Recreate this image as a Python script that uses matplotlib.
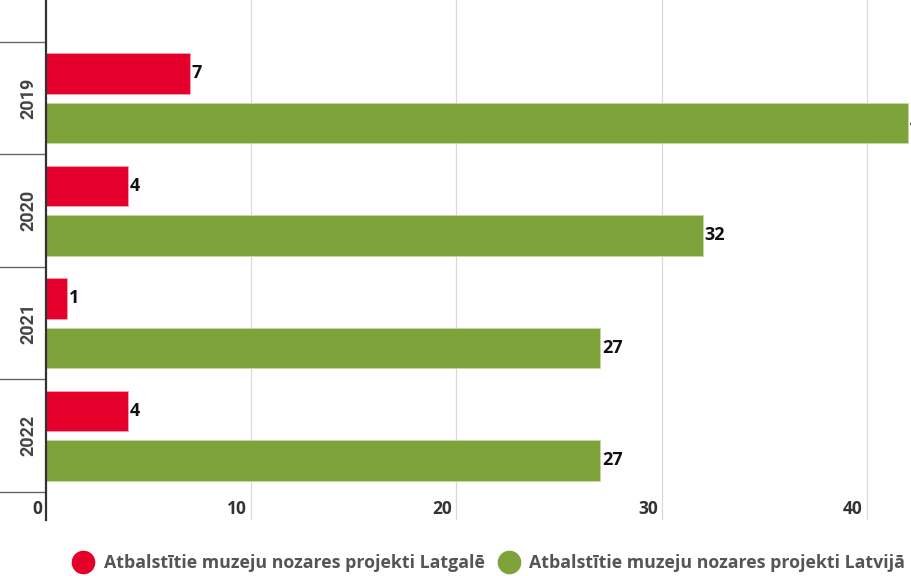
import numpy as np
import matplotlib.pyplot as plt
from matplotlib.lines import Line2D
import matplotlib.transforms as mtransforms

years = ["2019", "2020", "2021", "2022"]
latgale = [7, 4, 1, 4]
latvija = [42, 32, 27, 27]
series_names = ["Atbalstītie muzeju nozares projekti Latgalē",
                "Atbalstītie muzeju nozares projekti Latvijā"]
xticks = [0, 10, 20, 30, 40]

red = "#e4002b"
green = "#7ea33b"

plt.rcParams["font.family"] = ["Open Sans", "DejaVu Sans"]

fig = plt.figure(figsize=(9.12, 5.76), dpi=100)
# axes spans from x=46 to right edge, y=0 (top) down to y=520 px
ax = fig.add_axes([46 / 912, 1 - 520 / 576, 1 - 46 / 912, 520 / 576])

pos = np.arange(len(years))
h = 0.36
ax.barh(pos - 0.22, latgale, height=h, color=red, edgecolor="#f4a0b0", linewidth=0.6, zorder=3)
ax.barh(pos + 0.22, latvija, height=h, color=green, edgecolor="#c6dba0", linewidth=0.6, zorder=3)

offset = mtransforms.offset_copy(ax.transData, fig=fig, x=2, y=0, units="dots")
for i in range(len(years)):
    ax.text(latgale[i], pos[i] - 0.22, str(latgale[i]), transform=offset, ha="left", va="center",
            fontsize=13, fontweight="bold", color="#111111")
    ax.text(latvija[i], pos[i] + 0.22, str(latvija[i]), transform=offset, ha="left", va="center",
            fontsize=13, fontweight="bold", color="#111111")

ax.set_xlim(0, 42.2)
ax.set_ylim(3.75, -0.873)

# vertical grid
for v in xticks[1:]:
    ax.axvline(v, color="#d9d9d9", linewidth=0.9, zorder=0)

# x tick labels inside the bottom strip
lab_off = mtransforms.offset_copy(ax.transData, fig=fig, x=-4, y=0, units="dots")
for v in xticks:
    ax.text(v, 3.655, str(v), transform=lab_off, ha="right", va="center",
            fontsize=12.5, fontweight="bold", color="#333333")
ax.set_xticks([])

# category boundaries as long ticks
ax.set_yticks(np.arange(len(years) + 1) - 0.5)
ax.set_yticklabels([])
ax.tick_params(axis="y", which="major", length=36, width=1.0, color="#666666")

# year labels at group centers
ytrans = mtransforms.blended_transform_factory(fig.transFigure, ax.transData)
for i, y in enumerate(years):
    ax.text(28 / 912, pos[i], y, transform=ytrans, rotation=90, ha="center", va="center",
            fontsize=13, fontweight="bold", color="#444444", family=["Roboto", "DejaVu Sans"])

for s in ["top", "right", "bottom"]:
    ax.spines[s].set_visible(False)
ax.spines["left"].set_color("#333333")
ax.spines["left"].set_linewidth(1.6)
ax.spines["left"].set_zorder(5)

handles = [Line2D([], [], marker="o", linestyle="", markersize=16, color=red),
           Line2D([], [], marker="o", linestyle="", markersize=16, color=green)]
fig.legend(handles, series_names, loc="center", bbox_to_anchor=(0.532, 1 - 563 / 576), ncol=2,
           frameon=False, handletextpad=0.15, columnspacing=0.35, borderpad=0.2,
           prop={"weight": "bold", "size": 12.8}, labelcolor="#555555")

fig.savefig("out.png", dpi=100)
